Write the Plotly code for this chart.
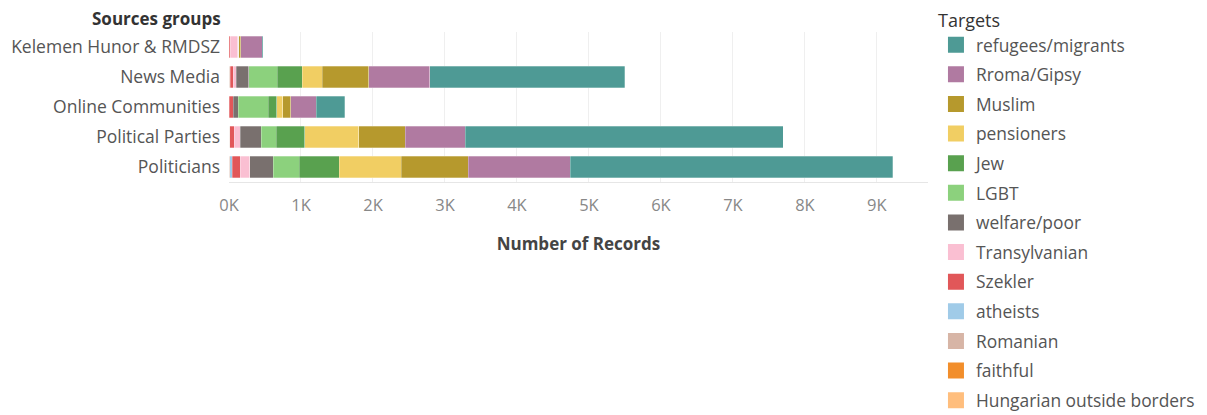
import plotly.graph_objects as go

# Sources groups (top to bottom)
groups = ["Kelemen Hunor & RMDSZ", "News Media", "Online Communities", "Political Parties", "Politicians"]

# Targets in legend order (top to bottom)
targets = ["refugees/migrants", "Rroma/Gipsy", "Muslim", "pensioners", "Jew", "LGBT",
           "welfare/poor", "Transylvanian", "Szekler", "atheists", "Romanian", "faithful",
           "Hungarian outside borders"]

colors = ["#4e9a95", "#b07aa1", "#b6992d", "#f1ce63", "#59a14f", "#8cd17d",
          "#79706e", "#fabfd2", "#e15759", "#a0cbe8", "#d7b5a6", "#f28e2b", "#ffbe7d"]

# Number of records per target, in groups order
refugees_migrants = [18, 2703, 394, 4417, 4476]
rroma_gipsy = [297, 853, 356, 833, 1417]
muslim = [28, 647, 107, 648, 935]
pensioners_v = [0, 274, 83, 750, 857]
jew = [0, 351, 120, 394, 560]
lgbt = [0, 394, 421, 208, 356]
welfare_poor = [14, 175, 69, 292, 329]
transylvanian = [100, 37, 0, 83, 130]
szekler = [20, 42, 50, 60, 115]
atheists = [0, 12, 6, 5, 33]
romanian = [0, 3, 0, 3, 5]
faithful = [0, 2, 0, 2, 3]
hungarian_outside = [0, 2, 0, 2, 3]

values = [refugees_migrants, rroma_gipsy, muslim, pensioners_v, jew, lgbt, welfare_poor,
          transylvanian, szekler, atheists, romanian, faithful, hungarian_outside]

tickvals = [0, 1000, 2000, 3000, 4000, 5000, 6000, 7000, 8000, 9000]
ticktext = ["0K", "1K", "2K", "3K", "4K", "5K", "6K", "7K", "8K", "9K"]

FONT = "Open Sans"

fig = go.Figure()

# legend entries first (square swatches), one group each so the gap applies
for name, col in zip(targets, colors):
    fig.add_trace(go.Scatter(
        x=[None], y=[None], mode="markers", name=name, legendgroup=name,
        marker=dict(symbol="square", size=16, color=col),
        showlegend=True,
    ))

# stacked bars: leftmost segment is the last target in the legend
for name, col, vals in reversed(list(zip(targets, colors, values))):
    fig.add_trace(go.Bar(
        y=groups, x=vals, name=name, orientation="h",
        marker=dict(color=col, line=dict(color="rgba(255,255,255,0.35)", width=0.8)),
        showlegend=False, legendgroup=name,
    ))

# the page body adds an 8px offset, so the figure is 8px smaller on each side
fig.update_layout(
    barmode="stack",
    bargap=0.27,
    width=1199, height=407,
    margin=dict(l=221, r=279, t=24, b=233, autoexpand=False),
    paper_bgcolor="white", plot_bgcolor="white",
    font=dict(family=FONT, size=15, color="#555555"),
    legend=dict(
        title=dict(text="Targets", font=dict(family=FONT, size=18, color="#333333")),
        x=1.0114, xanchor="left", y=1.19, yanchor="top",
        traceorder="grouped", tracegroupgap=4.0, maxheight=415,
        font=dict(family=FONT, size=17.4, color="#555555"),
        itemclick=False,
    ),
    annotations=[dict(
        text="<b>Sources groups</b>", xref="paper", yref="paper",
        x=-0.0129, xanchor="right", xshift=3, y=1.0, yshift=14, yanchor="middle",
        showarrow=False, font=dict(family=FONT, size=17, color="#333333"),
    )],
)

fig.update_xaxes(
    type="linear",
    range=[0, 9710], tickvals=tickvals, ticktext=ticktext,
    showgrid=True, gridcolor="#efefef", gridwidth=1,
    zeroline=False, showline=True, linecolor="#e6e6e6",
    tickfont=dict(family=FONT, size=16.5, color="#888888"),
    ticklabelstandoff=8,
    title=dict(text="<b>Number of Records</b>", standoff=23,
               font=dict(family=FONT, size=17, color="#444444")),
    ticks="", fixedrange=True,
)
fig.update_yaxes(
    type="category",
    categoryorder="array", categoryarray=groups, autorange="reversed",
    tickfont=dict(family=FONT, size=17.5, color="#555555"),
    ticks="", ticklabelstandoff=8, showgrid=False, fixedrange=True,
)

fig.write_html("out.html")
